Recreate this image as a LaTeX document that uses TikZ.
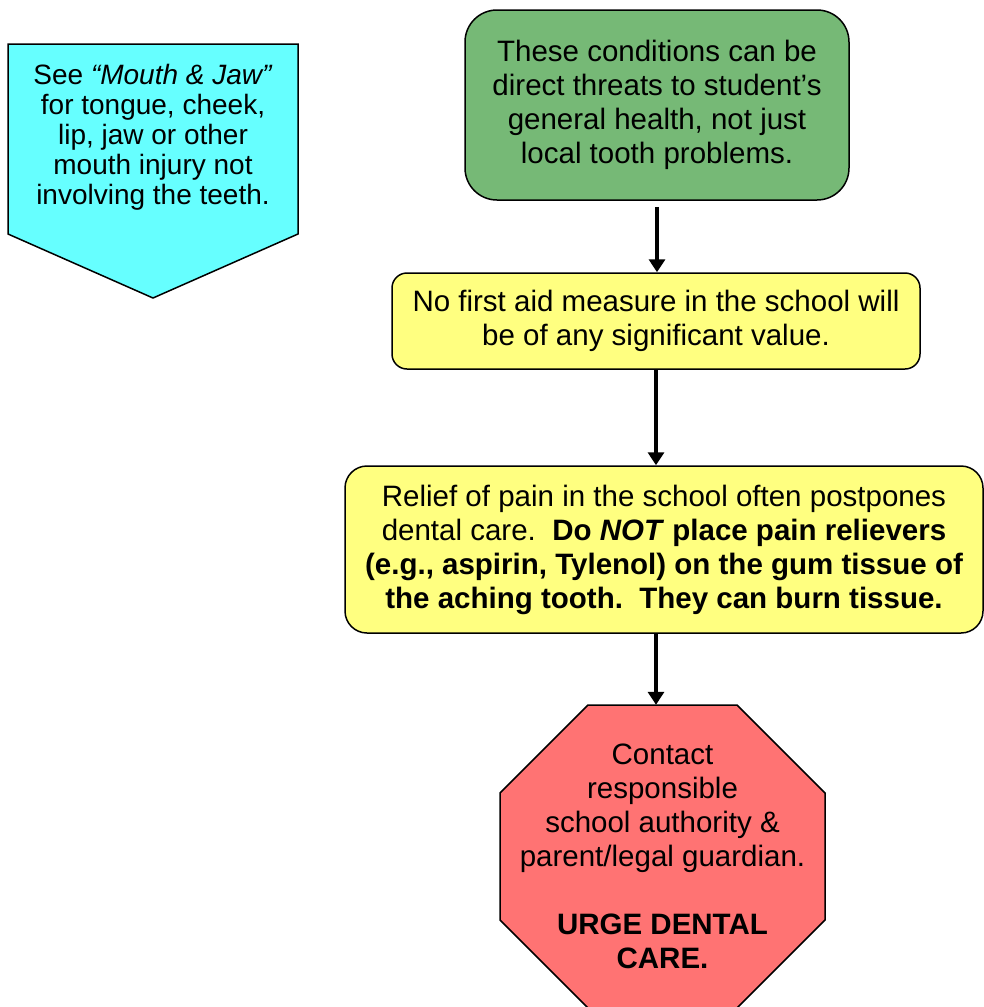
\documentclass[tikz,border=0pt]{standalone}
\usepackage{fontspec}
\setmainfont{Liberation Sans}
\usetikzlibrary{arrows.meta}
\definecolor{signcyan}{RGB}{102,255,255}
\definecolor{boxgreen}{RGB}{118,185,118}
\definecolor{boxyellow}{RGB}{255,255,128}
\definecolor{stopred}{RGB}{255,115,115}

\begin{document}
\begin{tikzpicture}[x=1pt, y=-1pt, >={Triangle[length=13pt, width=16pt]},
    txt/.style={font=\fontsize{29.5}{34}\selectfont, align=center, inner sep=0pt},
    roundbox/.style={txt, draw, line width=1.5pt, rounded corners=#1},
    roundbox/.default=15pt,
    flow/.style={->, line width=3.5pt}]
  \useasboundingbox (0,0) rectangle (983,1007);

  \node[roundbox=32pt, fill=boxgreen, minimum width=384pt, minimum height=190pt] (threat) at (657,105)
    {These conditions can be\\ direct threats to student’s\\ general health, not just\\ local tooth problems.};
  \node[roundbox=15pt, fill=boxyellow, minimum width=528pt, minimum height=96pt] (noaid) at (656,321)
    {No first aid measure in the school will\\ be of any significant value.};
  \node[roundbox=22pt, fill=boxyellow, minimum width=638pt, minimum height=167pt] (relief) at (664,549.5)
    {Relief of pain in the school often postpones\\
     dental care.\ \ \textbf{Do \textit{NOT} place pain relievers}\\
     \textbf{(e.g., aspirin, Tylenol) on the gum tissue of}\\
     \textbf{the aching tooth.\ \ They can burn tissue.}};

  \draw[line width=1.5pt, fill=stopred] (588,705) -- (737,705) -- (825,793) -- (825,920)
    -- (737,1008) -- (588,1008) -- (500,920) -- (500,793) -- cycle;
  \node[txt, minimum width=325pt, minimum height=303pt] (care) at (662.5,856.5)
    {Contact\\ responsible\\ school authority \&\\ parent/legal guardian.\\[34pt]
     \textbf{URGE DENTAL}\\ \textbf{CARE.}};

  \draw[line width=1.5pt, fill=signcyan] (8,44) -- (298,44) -- (298,234) -- (153,298) -- (8,234) -- cycle;
  \node[txt, font=\fontsize{28}{30}\selectfont] (mouth) at (153,137)
    {See \textit{“Mouth \& Jaw”}\\ for tongue, cheek,\\ lip, jaw or other\\ mouth injury not\\ involving the teeth.};

  \draw[flow, shorten <=6pt] (threat.south) -- (threat.south |- noaid.north);
  \draw[flow] (noaid.south) -- (noaid.south |- relief.north);
  \draw[flow] (relief.south -| noaid.south) -- (care.north -| noaid.south);
\end{tikzpicture}
\end{document}
